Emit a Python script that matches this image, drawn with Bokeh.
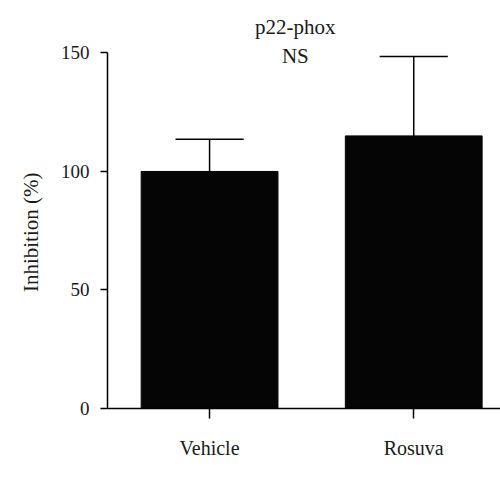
from bokeh.plotting import figure
from bokeh.models import Range1d, FixedTicker, Label, ColumnDataSource, Title
from bokeh.embed import file_html
from bokeh.resources import INLINE

categories = ["Vehicle", "Rosuva"]
means = [100.0, 115.0]
errors = [13.6, 33.5]
y_ticks = [0, 50, 100, 150]
title_text = "p22-phox"
sig_text = "NS"
y_label = "Inhibition (%)"

xs = [i + 0.5 for i in range(len(categories))]
tops = [m + e for m, e in zip(means, errors)]
src = ColumnDataSource(dict(x=xs, top=means, up=tops,
                            cl=[x - 0.167 for x in xs], cr=[x + 0.167 for x in xs]))

FONT = "Liberation Serif"
TXT = "#1a1a1a"

p = figure(width=500, height=490, output_backend="svg", toolbar_location=None,
           x_range=Range1d(0, 1.925), y_range=Range1d(0, 170),
           min_border_left=107, min_border_right=0, min_border_top=5, min_border_bottom=82)
p.outline_line_color = None
p.xgrid.visible = False
p.ygrid.visible = False
p.background_fill_color = "white"

p.vbar(x="x", top="top", bottom=0, width=0.67, source=src,
       fill_color="#050505", line_color="#050505")
p.segment(x0="x", y0="top", x1="x", y1="up", source=src, line_color="black", line_width=1.5)
p.segment(x0="cl", y0="up", x1="cr", y1="up", source=src, line_color="black", line_width=1.5)

p.xaxis.ticker = FixedTicker(ticks=xs)
p.xaxis.major_label_overrides = {x: c for x, c in zip(xs, categories)}
p.xaxis.minor_tick_line_color = None
p.xaxis.major_tick_in = 0
p.xaxis.major_tick_out = 10
p.xaxis.major_label_standoff = 18
p.xaxis.major_label_text_font = FONT
p.xaxis.major_label_text_font_size = "20px"
p.xaxis.major_label_text_color = TXT

p.yaxis.ticker = FixedTicker(ticks=y_ticks)
p.yaxis.bounds = (y_ticks[0], y_ticks[-1])
p.yaxis.minor_tick_line_color = None
p.yaxis.major_tick_in = 0
p.yaxis.major_tick_out = 7
p.yaxis.major_label_standoff = 11
p.yaxis.major_label_text_font = FONT
p.yaxis.major_label_text_font_size = "19px"
p.yaxis.major_label_text_color = TXT

for ax in (p.xaxis, p.yaxis):
    ax.axis_line_width = 1.5
    ax.major_tick_line_width = 1.5
    ax.axis_line_color = "black"
    ax.major_tick_line_color = "black"

# y-axis label as a side title so it can be centred on the 0-150 axis extent
p.add_layout(Title(text=y_label, align="right", offset=167, vertical_align="bottom", standoff=30,
                   text_font=FONT, text_font_size="21px", text_font_style="normal",
                   text_color=TXT), "left")

p.add_layout(Label(x=0.92, y=161, text=title_text, text_align="center", text_baseline="alphabetic",
                   text_font=FONT, text_font_size="21px", text_color=TXT))
p.add_layout(Label(x=0.92, y=148.7, text=sig_text, text_align="center", text_baseline="alphabetic",
                   text_font=FONT, text_font_size="21px", text_color=TXT))

open("out.html", "w").write(file_html(p, INLINE))
